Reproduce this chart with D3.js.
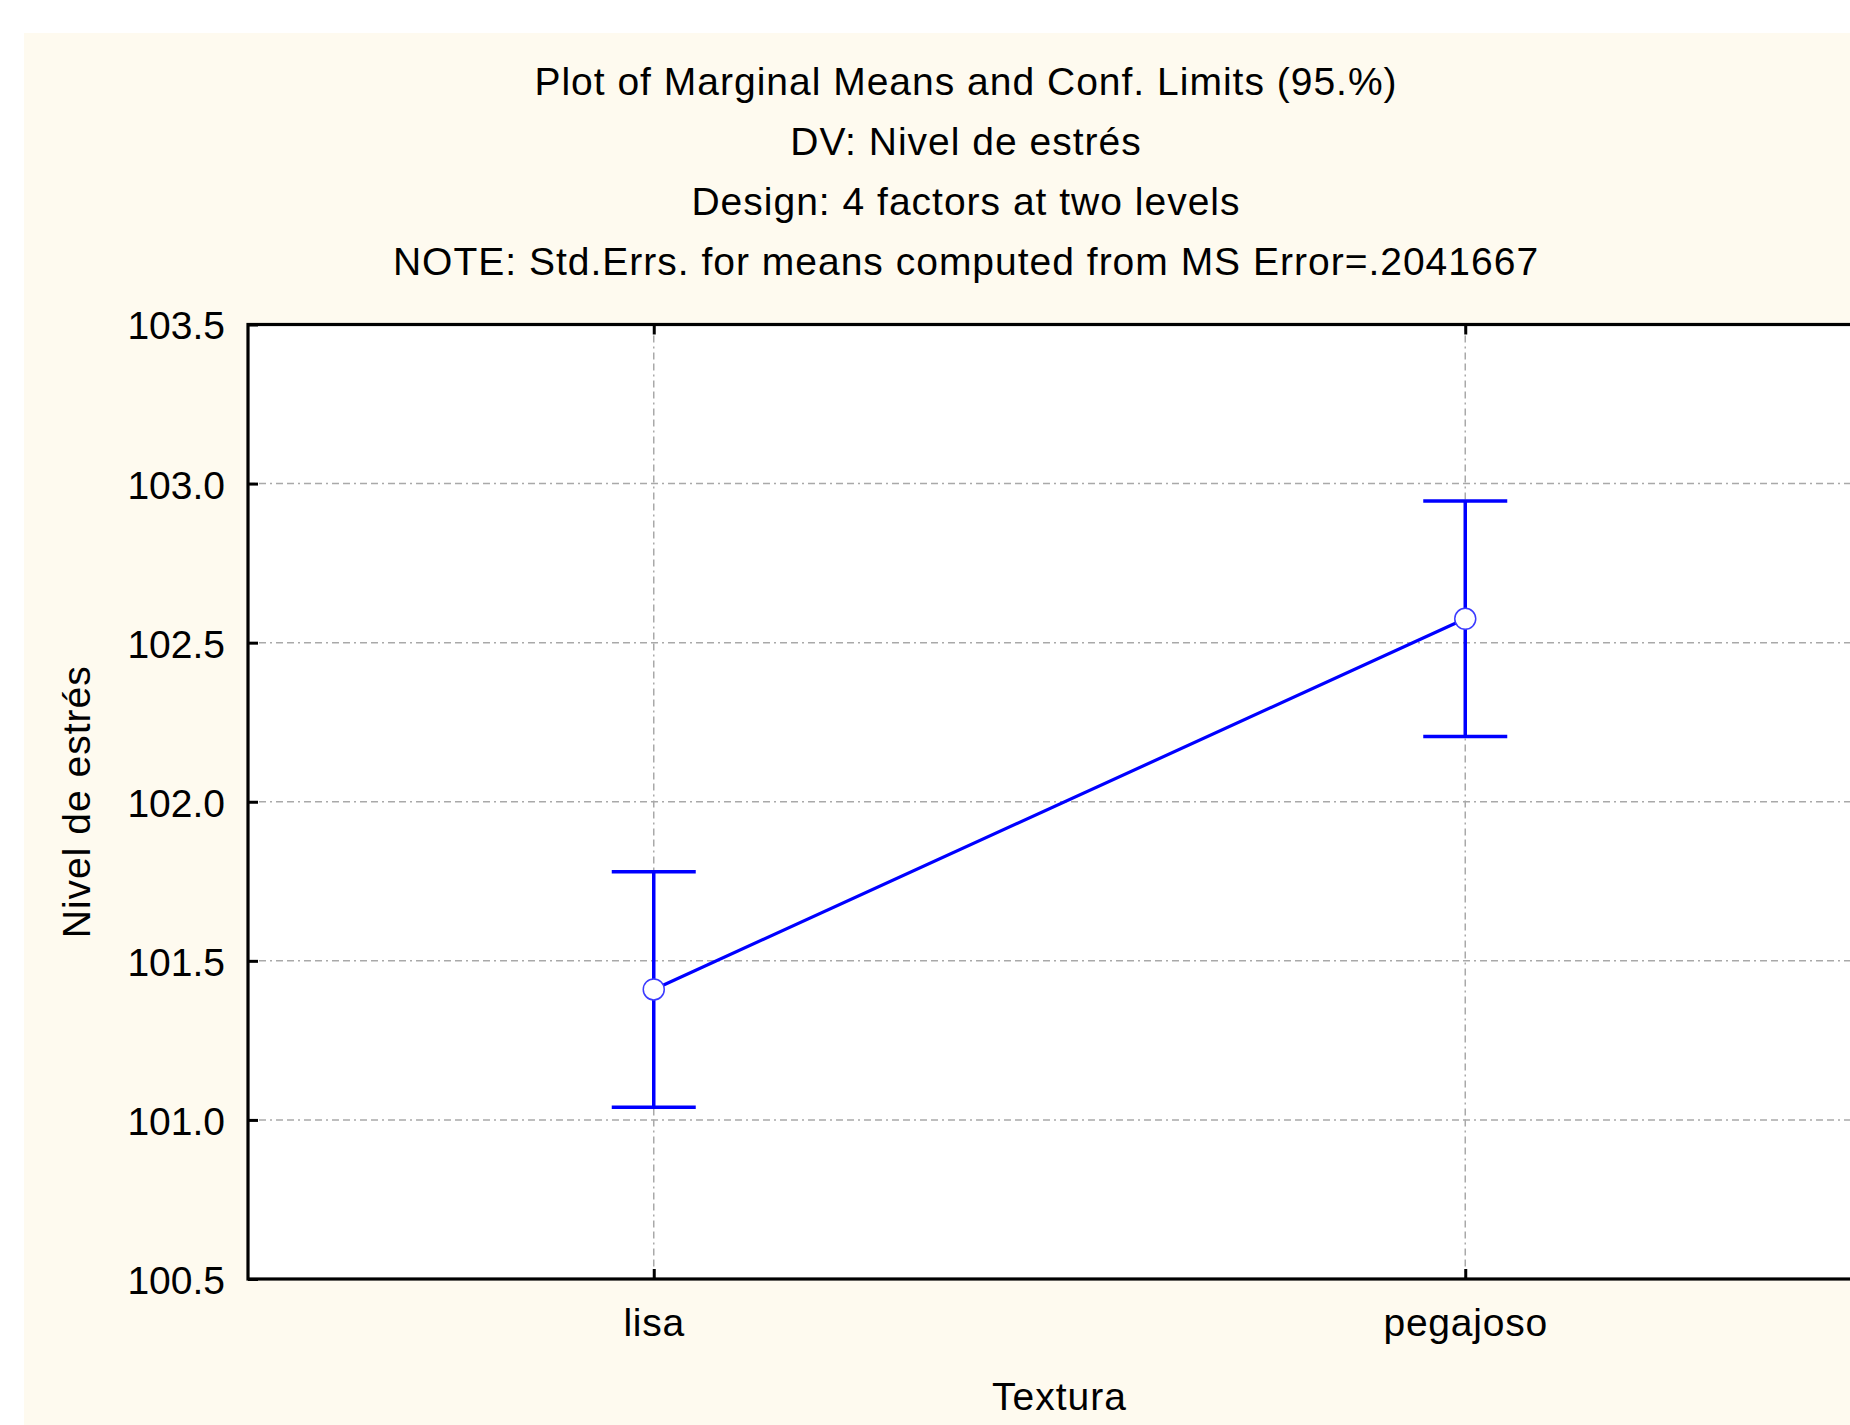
<!DOCTYPE html>
<html>
<head>
<meta charset="utf-8">
<script src="https://cdn.jsdelivr.net/npm/d3@7"></script>
<style>
    body { margin: 0; background: #ffffff; }
    svg { display: block; }
    text { font-family: "Liberation Sans", Arial, sans-serif; fill: #000; }
</style>
</head>
<body>
<div id="chart"></div>
<script>
const titleLines = [
    'Plot of Marginal Means and Conf. Limits (95.%)',
    'DV: Nivel de estrés',
    'Design: 4 factors at two levels',
    'NOTE: Std.Errs. for means computed from MS Error=.2041667'
]
const categories = ['lisa', 'pegajoso']
const means = [101.41, 102.575]
const lower = [101.04, 102.205]
const upper = [101.78, 102.945]
const yTicks = [100.5, 101.0, 101.5, 102.0, 102.5, 103.0, 103.5]
const xLabel = 'Textura'
const yLabel = 'Nivel de estrés'

const width = 1850
const height = 1425
const dim = {
    left: 248,
    right: 1871,
    top: 324.5,
    bottom: 1279
}
const blue = '#0000ff'
const gridDash = '7,4,7,4,2,4'

const svg = d3.select('#chart').append('svg')
    .attr('width', width).attr('height', height)

// cream panel
svg.append('rect')
    .attr('x', 24).attr('y', 33)
    .attr('width', width - 24).attr('height', height - 33)
    .attr('fill', '#fefaef')

const x = d3.scalePoint().domain(categories).range([dim.left, dim.right]).padding(0.5)
const y = d3.scaleLinear().domain([100.5, 103.5]).range([dim.bottom, dim.top])

// plot area
svg.append('rect')
    .attr('x', dim.left).attr('y', dim.top)
    .attr('width', dim.right - dim.left).attr('height', dim.bottom - dim.top)
    .attr('fill', '#ffffff')

// grid
const grid = svg.append('g')
    .attr('stroke', '#a9a9a9').attr('stroke-width', 1.5)
    .attr('stroke-dasharray', gridDash)
grid.selectAll('.hgrid')
    .data(yTicks.filter(d => d > 100.5 && d < 103.5))
    .join('line').attr('class', 'hgrid')
    .attr('x1', dim.left).attr('x2', dim.right)
    .attr('y1', d => y(d)).attr('y2', d => y(d))
grid.selectAll('.vgrid')
    .data(categories)
    .join('line').attr('class', 'vgrid')
    .attr('x1', d => x(d)).attr('x2', d => x(d))
    .attr('y1', dim.top).attr('y2', dim.bottom)

// axes
const yAxis = svg.append('g')
    .attr('transform', `translate(${dim.left},0)`)
    .call(d3.axisLeft(y).tickValues(yTicks).tickFormat(d3.format('.1f'))
        .tickSize(-10).tickSizeOuter(0).tickPadding(23))
const xAxis = svg.append('g')
    .attr('transform', `translate(0,${dim.bottom})`)
    .call(d3.axisBottom(x).tickSize(-10).tickSizeOuter(0).tickPadding(29))
const xAxisTop = svg.append('g')
    .attr('transform', `translate(0,${dim.top})`)
    .call(d3.axisTop(x).tickSize(-10).tickSizeOuter(0).tickFormat(''))

;[yAxis, xAxis, xAxisTop].forEach(a => {
    a.select('.domain').remove()
    a.selectAll('.tick line').attr('stroke', '#000').attr('stroke-width', 3)
    a.selectAll('text').attr('font-size', 39)
        .style('font-family', '"Liberation Sans", Arial, sans-serif')
})
yAxis.selectAll('text').attr('dy', '0.37em')
xAxis.selectAll('text').attr('letter-spacing', 0.8)

// frame
svg.append('rect')
    .attr('x', dim.left).attr('y', dim.top)
    .attr('width', dim.right - dim.left).attr('height', dim.bottom - dim.top)
    .attr('fill', 'none').attr('stroke', '#000').attr('stroke-width', 3.2)

// error bars
const bars = svg.append('g').attr('stroke', blue).attr('stroke-width', 3.5)
categories.forEach((c, i) => {
    bars.append('line')
        .attr('x1', x(c)).attr('x2', x(c))
        .attr('y1', y(lower[i])).attr('y2', y(upper[i]))
    ;[lower[i], upper[i]].forEach(v => {
        bars.append('line')
            .attr('x1', x(c) - 42).attr('x2', x(c) + 42)
            .attr('y1', y(v)).attr('y2', y(v))
    })
})

// means line
const line = d3.line().x((d, i) => x(categories[i])).y(d => y(d))
svg.append('path')
    .datum(means)
    .attr('d', line)
    .attr('fill', 'none').attr('stroke', blue).attr('stroke-width', 3.2)

svg.selectAll('.mean')
    .data(means)
    .join('circle').attr('class', 'mean')
    .attr('cx', (d, i) => x(categories[i])).attr('cy', d => y(d))
    .attr('r', 10.5)
    .attr('fill', '#ffffff').attr('stroke', '#3b3bff').attr('stroke-width', 1.5)

// titles
svg.selectAll('.title')
    .data(titleLines)
    .join('text').attr('class', 'title')
    .attr('x', 966).attr('y', (d, i) => 95 + i * 60)
    .attr('text-anchor', 'middle')
    .attr('font-size', 39).attr('letter-spacing', 1)
    .text(d => d)

svg.append('text')
    .attr('x', (dim.left + dim.right) / 2).attr('y', 1410)
    .attr('text-anchor', 'middle')
    .attr('font-size', 39).attr('letter-spacing', 1)
    .text(xLabel)

svg.append('text')
    .attr('transform', `translate(90,${(dim.top + dim.bottom) / 2}) rotate(-90)`)
    .attr('text-anchor', 'middle')
    .attr('font-size', 39).attr('letter-spacing', 1)
    .text(yLabel)
</script>
</body>
</html>
